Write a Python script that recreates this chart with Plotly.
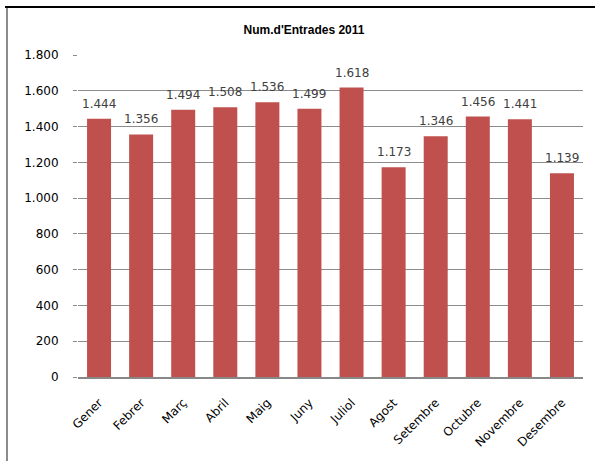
import plotly.graph_objects as go

months = ["Gener", "Febrer", "Març", "Abril", "Maig", "Juny", "Juliol",
          "Agost", "Setembre", "Octubre", "Novembre", "Desembre"]
entrades = [1444, 1356, 1494, 1508, 1536, 1499, 1618, 1173, 1346, 1456, 1441, 1139]
y_ticks = [0, 200, 400, 600, 800, 1000, 1200, 1400, 1600, 1800]
title_text = "Num.d'Entrades 2011"

W, H = 595, 461
L, R, T, B = 78, 12, 55, 84
pw, ph = W - L - R, H - T - B

def px_x(x):
    return (x - L) / pw

def px_y(y):
    return (H - B - y) / ph

def fmt(v):
    return f"{v:,}".replace(",", ".")

fig = go.Figure(go.Bar(
    x=months, y=entrades,
    marker=dict(color="#C0504D", line=dict(width=0)),
    hoverinfo="x+y",
))

annotations = [
    dict(x=m, y=v, xref="x", yref="y", text=fmt(v), showarrow=False,
         yanchor="middle", xanchor="center", yshift=15,
         font=dict(family="DejaVu Sans", size=12, color="#404040"))
    for m, v in zip(months, entrades)
]

fig.update_layout(
    width=W, height=H,
    margin=dict(l=L, r=R, t=T, b=B),
    paper_bgcolor="white", plot_bgcolor="white",
    separators=",.",
    bargap=0.43,
    showlegend=False,
    title=dict(text="<b>" + title_text + "</b>", x=px_x(304), xref="paper",
               xanchor="center", y=1 - 30 / H, yanchor="middle",
               font=dict(family="Liberation Sans, Arial", size=12, color="black")),
    font=dict(family="DejaVu Sans", color="black"),
    xaxis=dict(showline=True, linecolor="#888888", linewidth=2,
               tickangle=-45, tickfont=dict(family="DejaVu Sans", size=12, color="black"),
               ticks="", showgrid=False, ticklabelstandoff=12),
    yaxis=dict(range=[0, 1800], tickvals=y_ticks, tickformat=",d",
               showgrid=True, gridcolor="#8c8c8c", gridwidth=1,
               ticks="outside", ticklen=4, tickcolor="#8c8c8c",
               tickfont=dict(family="DejaVu Sans", size=12, color="black"),
               ticklabelstandoff=12,
               zeroline=False, showline=False),
    annotations=annotations,
    shapes=[
        dict(type="line", xref="paper", yref="paper",
             x0=px_x(5), x1=px_x(595), y0=px_y(7), y1=px_y(7),
             line=dict(color="black", width=2)),
        dict(type="line", xref="paper", yref="paper",
             x0=px_x(7), x1=px_x(7), y0=px_y(8), y1=px_y(461),
             line=dict(color="#8c8c8c", width=2)),
    ],
)

fig.write_html("out.html", config={"displayModeBar": False},
               post_script="document.body.style.margin='0';document.body.style.overflow='hidden';")
